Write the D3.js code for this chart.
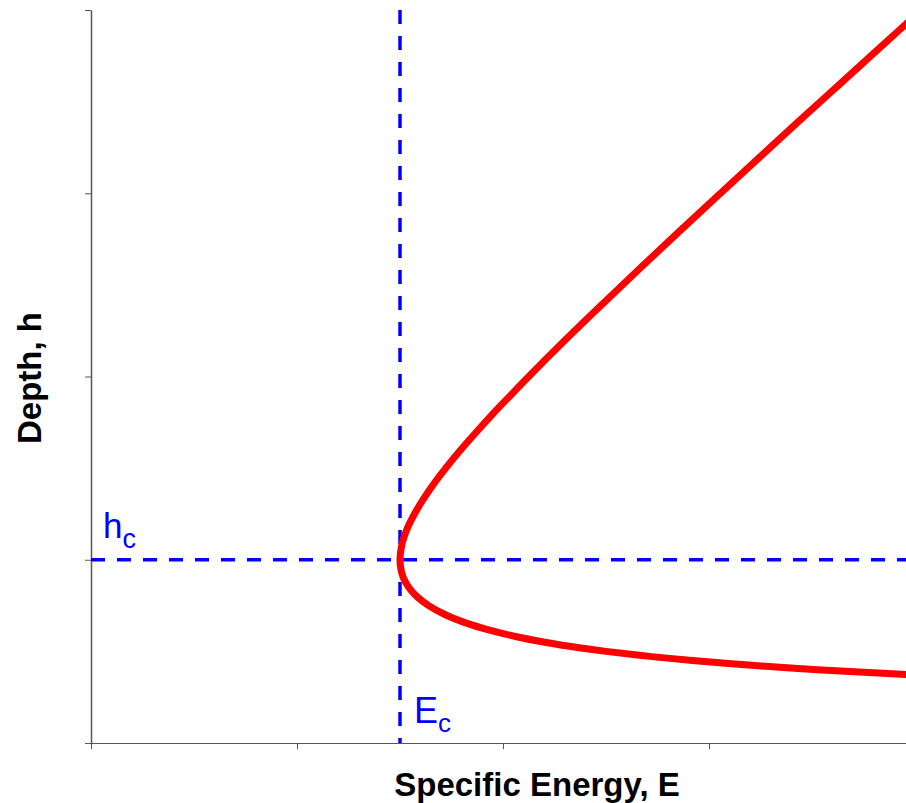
<!DOCTYPE html>
<html>
<head>
<meta charset="utf-8">
<script src="https://cdn.jsdelivr.net/npm/d3@7"></script>
<style>
  body { margin: 0; background: #fff; }
  svg { display: block; }
  .axis path, .axis line { stroke: #555; }
</style>
</head>
<body>
<div id="canvas"></div>
<script>
// depth h and specific energy E
var depth  = [0.35, 0.36, 0.38, 0.40, 0.42, 0.45, 0.47, 0.50, 0.52, 0.55, 0.58, 0.62, 0.65, 0.70, 0.75, 0.80, 0.85, 0.90, 0.95, 1.00,
              1.05, 1.10, 1.15, 1.20, 1.30, 1.40, 1.50, 1.60, 1.70, 1.80, 1.90, 2.00, 2.20, 2.40, 2.60, 2.80, 3.00, 3.20, 3.40, 3.60, 3.80, 4.00];
var energy = [4.432, 4.218, 3.843, 3.525, 3.254, 2.919, 2.733, 2.500, 2.369, 2.203, 2.066, 1.921, 1.833, 1.720, 1.639, 1.581, 1.542, 1.517, 1.504, 1.500,
              1.504, 1.513, 1.528, 1.547, 1.596, 1.655, 1.722, 1.795, 1.873, 1.954, 2.039, 2.125, 2.303, 2.487, 2.674, 2.864, 3.056, 3.249, 3.443, 3.639, 3.835, 4.031];
var hc = 1.0, Ec = 1.5;
var xTicks = [0, 1, 2, 3, 4];
var yTicks = [0, 1, 2, 3, 4];

var W = 906, H = 803;
var x = d3.scaleLinear().domain([0, 4]).range([91, 915]);
var y = d3.scaleLinear().domain([0, 4]).range([743, 10]);

var svg = d3.select("#canvas").append("svg")
    .attr("width", W)
    .attr("height", H);

svg.append("g")
    .attr("class", "axis")
    .attr("transform", "translate(0," + y(0) + ")")
    .call(d3.axisBottom(x).tickValues(xTicks).tickSize(6).tickSizeOuter(0).tickFormat(""))
    .select(".domain").attr("stroke", "#333");

svg.append("g")
    .attr("class", "axis")
    .attr("transform", "translate(" + x(0) + ",0)")
    .call(d3.axisLeft(y).tickValues(yTicks).tickSize(6).tickSizeOuter(0).tickFormat(""))
    .select(".domain").attr("stroke", "#888").attr("stroke-width", 1.5);

// critical lines
svg.append("line")
    .attr("x1", x(0)).attr("x2", W)
    .attr("y1", y(hc)).attr("y2", y(hc))
    .attr("stroke", "#0000ff").attr("stroke-width", 3.5)
    .attr("stroke-dasharray", "14,12");

svg.append("line")
    .attr("x1", x(Ec)).attr("x2", x(Ec))
    .attr("y1", y(4)).attr("y2", y(0))
    .attr("stroke", "#0000ff").attr("stroke-width", 3.5)
    .attr("stroke-dasharray", "14,12");

var pts = depth.map(function(h, i) { return [energy[i], h]; });

svg.append("path")
    .datum(pts)
    .attr("fill", "none")
    .attr("stroke", "#ff0000")
    .attr("stroke-width", 7)
    .attr("d", d3.line()
        .x(function(d) { return x(d[0]); })
        .y(function(d) { return y(d[1]); })
        .curve(d3.curveCatmullRom));

// labels
var font = "Liberation Sans, Arial, sans-serif";
var hl = svg.append("text")
    .attr("x", 103).attr("y", 538)
    .attr("fill", "#0000ff")
    .style("font-family", font)
    .style("font-size", "35px");
hl.append("tspan").text("h");
hl.append("tspan").attr("dy", 10).style("font-size", "27px").text("c");

var el = svg.append("text")
    .attr("x", 414).attr("y", 723)
    .attr("fill", "#0000ff")
    .style("font-family", font)
    .style("font-size", "36px");
el.append("tspan").text("E");
el.append("tspan").attr("dy", 9).style("font-size", "26px").text("c");

svg.append("text")
    .attr("x", 537).attr("y", 796)
    .attr("text-anchor", "middle")
    .style("font-family", font)
    .style("font-weight", "bold")
    .style("font-size", "33px")
    .text("Specific Energy, E");

svg.append("text")
    .attr("transform", "translate(41,378) rotate(-90)")
    .attr("text-anchor", "middle")
    .style("font-family", font)
    .style("font-weight", "bold")
    .style("font-size", "33px")
    .text("Depth, h");
</script>
</body>
</html>
